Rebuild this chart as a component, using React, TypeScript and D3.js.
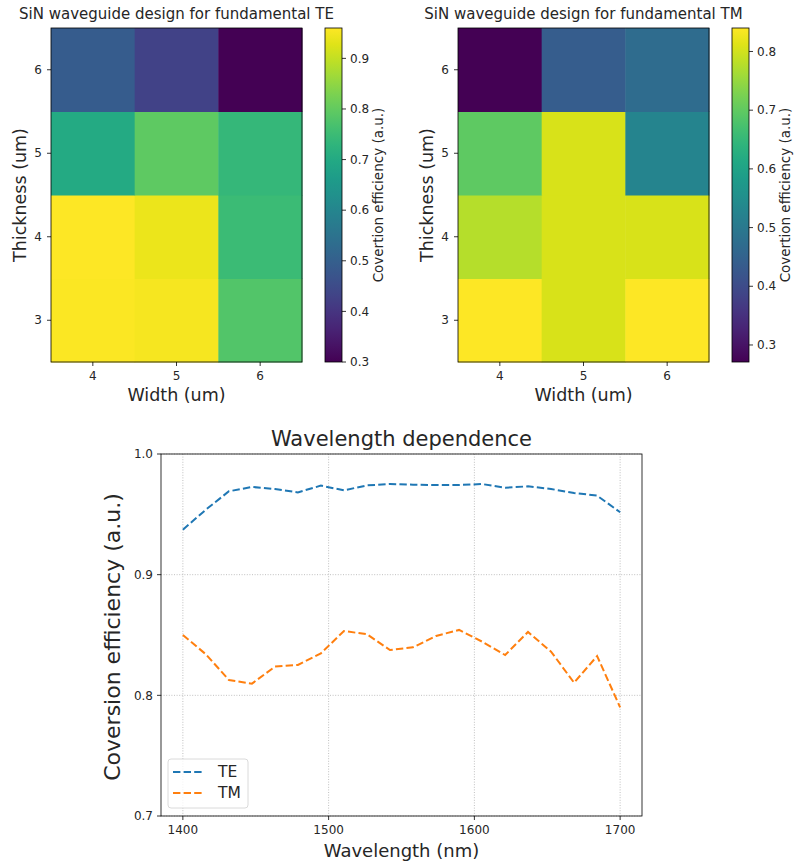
import React from 'react'
import * as d3 from 'd3'

const widths = [4, 5, 6]
const thicknesses = [3, 4, 5, 6]

// rows follow thicknesses (3 -> 6), columns follow widths (4 -> 6)
const teGrid = [
  [0.955, 0.95, 0.78],
  [0.96, 0.94, 0.75],
  [0.70, 0.795, 0.74],
  [0.49, 0.43, 0.30],
]
const tmGrid = [
  [0.84, 0.806, 0.838],
  [0.777, 0.806, 0.806],
  [0.698, 0.806, 0.527],
  [0.271, 0.436, 0.47],
]
const teRange = [0.3, 0.96]
const tmRange = [0.271, 0.84]
const teTicks = [0.3, 0.4, 0.5, 0.6, 0.7, 0.8, 0.9]
const tmTicks = [0.3, 0.4, 0.5, 0.6, 0.7, 0.8]

const wavelengths = [1400, 1415.8, 1431.6, 1447.4, 1463.2, 1478.9, 1494.7, 1510.5, 1526.3, 1542.1,
  1557.9, 1573.7, 1589.5, 1605.3, 1621.1, 1636.8, 1652.6, 1668.4, 1684.2, 1700]
const teCurve = [0.9373, 0.9539, 0.9691, 0.9727, 0.971, 0.9682, 0.9738, 0.9699, 0.974, 0.9751,
  0.9746, 0.9743, 0.9743, 0.9751, 0.9721, 0.9732, 0.971, 0.9677, 0.9655, 0.9517]
const tmCurve = [0.85, 0.834, 0.8127, 0.8097, 0.8238, 0.8252, 0.8348, 0.8533, 0.8506, 0.8376,
  0.8398, 0.8492, 0.8542, 0.8445, 0.8334, 0.8525, 0.8362, 0.8105, 0.8326, 0.79]
const wlTicks = [1400, 1500, 1600, 1700]
const effTicks = [0.7, 0.8, 0.9, 1.0]

const font = '"DejaVu Sans", sans-serif'
const txt = '#262626'
const dash = '7.4,3.2'

const Heatmap = ({ id, box, cbX, grid, range, ticks, title }) => {
  const x = d3.scaleBand().domain(widths).range([box.l, box.r])
  // reversed so thickness 6 sits on top
  const yb = d3.scaleBand().domain([...thicknesses].reverse()).range([box.t, box.b])
  const color = d3.scaleSequential(d3.interpolateViridis).domain(range)
  const cb = d3.scaleLinear().domain(range).range([box.b, box.t])
  const cw = 17
  const stops = d3.range(0, 1.0001, 0.05)
  const cx = (box.l + box.r) / 2
  const cy = (box.t + box.b) / 2
  return (
    <g>
      <defs>
        <linearGradient id={id} x1="0" y1="1" x2="0" y2="0">
          {stops.map(s => <stop key={s} offset={s} stopColor={d3.interpolateViridis(s)} />)}
        </linearGradient>
      </defs>
      <text x={cx} y={19} textAnchor="middle" fontSize={15} fill={txt}>{title}</text>
      {thicknesses.map((t, i) => widths.map((w, j) => (
        <rect key={`${t}-${w}`} x={x(w)} y={yb(t)} width={x.bandwidth() + 0.5} height={yb.bandwidth() + 0.5}
          fill={color(grid[i][j])} />
      )))}
      <rect x={box.l} y={box.t} width={box.r - box.l} height={box.b - box.t} fill="none" stroke="#000" strokeWidth={0.8} />
      {widths.map(w => (
        <g key={w} transform={`translate(${x(w) + x.bandwidth() / 2},${box.b})`}>
          <line y2={4} stroke="#000" strokeWidth={0.8} />
          <text y={18} textAnchor="middle" fontSize={12} fill={txt}>{w}</text>
        </g>
      ))}
      {thicknesses.map(t => (
        <g key={t} transform={`translate(${box.l},${yb(t) + yb.bandwidth() / 2})`}>
          <line x2={-4} stroke="#000" strokeWidth={0.8} />
          <text x={-9} dy="0.35em" textAnchor="end" fontSize={12} fill={txt}>{t}</text>
        </g>
      ))}
      <text x={cx} y={401} textAnchor="middle" fontSize={17.5} fill={txt}>Width (um)</text>
      <text transform={`translate(${box.l - 25},${cy}) rotate(-90)`} textAnchor="middle" fontSize={17.5} fill={txt}>Thickness (um)</text>
      <rect x={cbX} y={box.t} width={cw} height={box.b - box.t} fill={`url(#${id})`} stroke="#000" strokeWidth={0.8} />
      {ticks.map(v => (
        <g key={v} transform={`translate(${cbX + cw},${cb(v)})`}>
          <line x2={4} stroke="#000" strokeWidth={0.8} />
          <text x={8} dy="0.35em" fontSize={12} fill={txt}>{v.toFixed(1)}</text>
        </g>
      ))}
      <text transform={`translate(${cbX + cw + 41},${cy}) rotate(-90)`} textAnchor="middle" fontSize={13.5} fill={txt}>Covertion efficiency (a.u.)</text>
    </g>
  )
}

const LineChart = () => {
  const m = { l: 161, r: 642, t: 454, b: 816 }
  const x = d3.scaleLinear().domain([1385, 1715]).range([m.l, m.r])
  const y = d3.scaleLinear().domain([0.7, 1.0]).range([m.b, m.t])
  const line = d3.line<number>().x((d, i) => x(wavelengths[i])).y(d => y(d))
  const series = [
    { name: 'TE', values: teCurve, color: '#1f77b4' },
    { name: 'TM', values: tmCurve, color: '#ff7f0e' },
  ]
  return (
    <g>
      <text x={(m.l + m.r) / 2} y={446} textAnchor="middle" fontSize={21} fill={txt}>Wavelength dependence</text>
      {wlTicks.map(t => (
        <line key={t} x1={x(t)} x2={x(t)} y1={m.t} y2={m.b} stroke="#b0b0b0" strokeWidth={0.8} strokeDasharray="1,1.6" />
      ))}
      {effTicks.map(t => (
        <line key={t} x1={m.l} x2={m.r} y1={y(t)} y2={y(t)} stroke="#b0b0b0" strokeWidth={0.8} strokeDasharray="1,1.6" />
      ))}
      {series.map(s => (
        <path key={s.name} d={line(s.values)} fill="none" stroke={s.color} strokeWidth={2} strokeDasharray={dash} />
      ))}
      <rect x={m.l} y={m.t} width={m.r - m.l} height={m.b - m.t} fill="none" stroke="#000" strokeWidth={0.8} />
      {wlTicks.map(t => (
        <g key={t} transform={`translate(${x(t)},${m.b})`}>
          <line y2={4} stroke="#000" strokeWidth={0.8} />
          <text y={18} textAnchor="middle" fontSize={12} fill={txt}>{t}</text>
        </g>
      ))}
      {effTicks.map(t => (
        <g key={t} transform={`translate(${m.l},${y(t)})`}>
          <line x2={-4} stroke="#000" strokeWidth={0.8} />
          <text x={-8} dy="0.35em" textAnchor="end" fontSize={12} fill={txt}>{t.toFixed(1)}</text>
        </g>
      ))}
      <text x={(m.l + m.r) / 2} y={857} textAnchor="middle" fontSize={18} fill={txt}>Wavelength (nm)</text>
      <text transform={`translate(${120},${(m.t + m.b) / 2 + 2}) rotate(-90)`} textAnchor="middle" fontSize={22} fill={txt}>Coversion efficiency (a.u.)</text>
      <g transform="translate(168,759)">
        <rect width={80} height={49} rx={3} fill="#fff" fillOpacity={0.8} stroke="#d0d0d0" strokeWidth={0.8} />
        {series.map((s, i) => (
          <g key={s.name} transform={`translate(0,${13 + i * 21})`}>
            <line x1={5} x2={35} stroke={s.color} strokeWidth={2} strokeDasharray={dash} />
            <text x={50} dy="0.35em" fontSize={15.5} fill={txt}>{s.name}</text>
          </g>
        ))}
      </g>
    </g>
  )
}

export default function App() {
  return (
    <svg width={794} height={864} style={{ position: 'absolute', left: 0, top: 0, background: '#fff' }} fontFamily={font}>
      <rect width={794} height={864} fill="#fff" />
      <Heatmap id="cbte" box={{ l: 51, r: 302, t: 28, b: 362 }} cbX={325} grid={teGrid} range={teRange} ticks={teTicks}
        title="SiN waveguide design for fundamental TE" />
      <Heatmap id="cbtm" box={{ l: 458, r: 709, t: 28, b: 362 }} cbX={732} grid={tmGrid} range={tmRange} ticks={tmTicks}
        title="SiN waveguide design for fundamental TM" />
      <LineChart />
    </svg>
  )
}
